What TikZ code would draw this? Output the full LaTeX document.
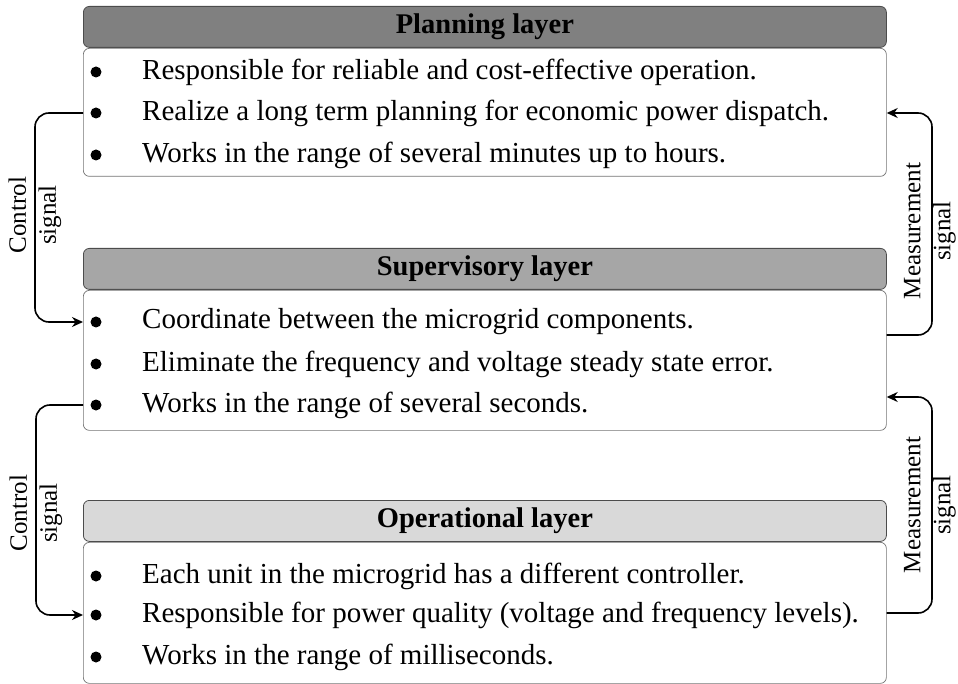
\documentclass[tikz,border=0pt]{standalone}
\usepackage{fontspec}
\setmainfont{Liberation Serif}
\usetikzlibrary{arrows.meta,calc}
\begin{document}
\begin{tikzpicture}[x=1pt,y=-1pt,
  hdr/.style={draw=black!70,line width=0.8pt,rounded corners=6pt,minimum width=803pt,minimum height=41pt,anchor=north west,inner sep=0pt,font=\fontsize{28.5}{32}\selectfont\bfseries},
  bodybox/.style={draw=black!55,line width=0.7pt,rounded corners=6pt,minimum width=803pt,anchor=north west,inner sep=0pt},
  bul/.style={circle,fill=black,inner sep=0pt,minimum size=11pt},
  itm/.style={anchor=west,inner sep=0pt,font=\fontsize{29}{32}\selectfont},
  conn/.style={draw=black,line width=1.6pt,rounded corners=14pt},
  arr/.style={conn,-{Stealth[length=11pt,width=10pt]}},
  lbl/.style={rotate=90,align=center,font=\fontsize{25}{30}\selectfont,inner sep=0pt}]
\useasboundingbox (0,0) rectangle (958,684);
% Planning
\node[hdr,fill=black!50] (ph) at (83,6) {Planning layer};
\node[bodybox,minimum height=128pt] (pb) at (83,48) {};
\node[bul] (pd1) at (96,72) {};
\node[bul] (pd2) at (96,113) {};
\node[bul] (pd3) at (96,155) {};
\node[itm] (p1) at (142,72) {Responsible for reliable and cost-effective operation.};
\node[itm] (p2) at (142,113) {Realize a long term planning for economic power dispatch.};
\node[itm] (p3) at (142,155) {Works in the range of several minutes up to hours.};
% Supervisory
\node[hdr,fill=black!35] (sh) at (83,248) {Supervisory layer};
\node[bodybox,minimum height=140pt] (sb) at (83,290) {};
\node[bul] (sd1) at (96,322) {};
\node[bul] (sd2) at (96,364) {};
\node[bul] (sd3) at (96,405) {};
\node[itm] (s1) at (142,322) {Coordinate between the microgrid components.};
\node[itm] (s2) at (142,364) {Eliminate the frequency and voltage steady state error.};
\node[itm] (s3) at (142,405) {Works in the range of several seconds.};
% Operational
\node[hdr,fill=black!15] (oh) at (83,500) {Operational layer};
\node[bodybox,minimum height=141pt] (ob) at (83,542) {};
\node[bul] (od1) at (96,576) {};
\node[bul] (od2) at (96,615) {};
\node[bul] (od3) at (96,657) {};
\node[itm] (o1) at (142,576) {Each unit in the microgrid has a different controller.};
\node[itm] (o2) at (142,615) {Responsible for power quality (voltage and frequency levels).};
\node[itm] (o3) at (142,657) {Works in the range of milliseconds.};
% Control connectors (left)
\coordinate (cl1) at (35,0);
\coordinate (cl2) at (36,0);
\draw[arr] (pb.west |- pd2) -| (cl1 |- sd1) -- (sb.west |- sd1);
\draw[arr] (sb.west |- sd3) -| (cl2 |- od2) -- (ob.west |- od2);
\node[lbl] (cs1) at (35,215) {Control\\signal};
\node[lbl] (cs2) at (36,513) {Control\\signal};
% Measurement connectors (right)
\coordinate (cr1) at (932,0);
\coordinate (cr2) at (932,0);
\coordinate (m1) at (0,335);
\coordinate (m2) at (0,613);
\coordinate (m3) at (0,397);
\draw[arr] (sb.east |- m1) -| (cr1 |- pd2) -- (pb.east |- pd2);
\draw[arr] (ob.east |- m2) -| (cr2 |- m3) -- (sb.east |- m3);
\node[lbl] (ms1) at (930,231) {Measurement\\signal};
\node[lbl] (ms2) at (930,505) {Measurement\\signal};
\end{tikzpicture}
\end{document}
